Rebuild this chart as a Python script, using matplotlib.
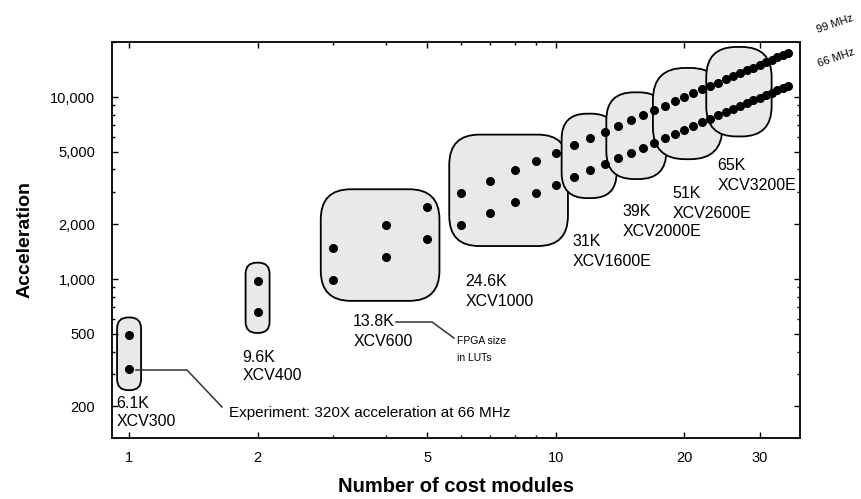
import matplotlib
matplotlib.use("Agg")
import matplotlib.pyplot as plt
from matplotlib.patches import FancyBboxPatch
from matplotlib.lines import Line2D
from matplotlib.transforms import IdentityTransform
from matplotlib.ticker import FixedLocator, NullFormatter, FixedFormatter

plt.rcParams["font.family"] = ["Liberation Sans", "DejaVu Sans"]

# data
modules = list(range(1, 36))
accel_99mhz = [490, 980, 1480, 1980, 2480, 2960, 3450, 3950, 4450, 4950,
               5450, 5950, 6450, 6950, 7450, 7950, 8450, 8950, 9500, 10000,
               10500, 11000, 11500, 12000, 12500, 13000, 13500, 14000, 14500, 15000,
               15500, 16000, 16500, 17000, 17500]
accel_66mhz = [320, 660, 990, 1320, 1650, 1980, 2310, 2640, 2970, 3300,
               3630, 3960, 4290, 4620, 4950, 5280, 5610, 5940, 6270, 6600,
               6930, 7260, 7590, 7920, 8250, 8580, 8910, 9240, 9570, 9900,
               10230, 10560, 10890, 11220, 11550]

# FPGA groups: first / last module count that fits in each device
group_first = [1, 2, 3, 6, 11, 14, 18, 24]
group_last = [1, 2, 5, 10, 13, 17, 23, 30]
group_luts = ["6.1K", "9.6K", "13.8K", "24.6K", "31K", "39K", "51K", "65K"]
group_parts = ["XCV300", "XCV400", "XCV600", "XCV1000",
               "XCV1600E", "XCV2000E", "XCV2600E", "XCV3200E"]

x_ticks = [1, 2, 5, 10, 20, 30]
x_minor = [3, 4, 6, 7, 8, 9]
y_ticks = [200, 500, 1000, 2000, 5000, 10000]
y_tick_labels = ["200", "500", "1,000", "2,000", "5,000", "10,000"]

W, H = 861, 499


def px(x, y):
    # pixel position (from top-left) -> figure fraction
    return x / W, 1 - y / H


def main():
    fig = plt.figure(figsize=(W / 100, H / 100), dpi=100)
    ax = fig.add_axes([112 / W, 1 - 438 / H, 688 / W, 396 / H])
    ax.set_xscale("log")
    ax.set_yscale("log")
    ax.set_xlim(0.912, 37.3)
    ax.set_ylim(134, 20050)

    ax.xaxis.set_major_locator(FixedLocator(x_ticks))
    ax.xaxis.set_major_formatter(FixedFormatter([str(t) for t in x_ticks]))
    ax.xaxis.set_minor_locator(FixedLocator(x_minor))
    ax.xaxis.set_minor_formatter(NullFormatter())
    ax.yaxis.set_major_locator(FixedLocator(y_ticks))
    ax.yaxis.set_major_formatter(FixedFormatter(y_tick_labels))
    ax.tick_params(which="both", direction="in", top=True, right=True,
                   labelsize=10.5, width=1)
    ax.tick_params(which="major", length=4)
    ax.tick_params(which="minor", length=2.5)
    ax.tick_params(axis="x", pad=9)
    ax.tick_params(axis="y", pad=12)
    for s in ax.spines.values():
        s.set_linewidth(1.3)

    ax.set_xlabel("Number of cost modules", fontsize=14.5, fontweight="bold", labelpad=9)
    ax.set_ylabel("Acceleration", fontsize=14, fontweight="bold", labelpad=12)

    # rounded outlines around each FPGA group (drawn in pixels)
    for first, last in zip(group_first, group_last):
        i0, i1 = modules.index(first), modules.index(last)
        ys = accel_99mhz[i0:i1 + 1] + accel_66mhz[i0:i1 + 1]
        x0, y0 = ax.transData.transform((first, min(ys)))
        x1, y1 = ax.transData.transform((last, max(ys)))
        x0, x1 = x0 - 12, x1 + 12
        y0, y1 = y0 - 21, y1 + 18
        w, h = x1 - x0, y1 - y0
        r = 0.27 * min(w, h) if w / h > 0.9 else 0.46 * min(w, h)
        box = FancyBboxPatch((x0, y0), w, h,
                             boxstyle=f"round,pad=0,rounding_size={r}",
                             transform=IdentityTransform(), facecolor="#e9e9e9",
                             edgecolor="black", linewidth=1.3, clip_on=False, zorder=1)
        ax.add_patch(box)

    ax.plot(modules, accel_99mhz, "o", color="black", ms=5.5, zorder=3)
    ax.plot(modules, accel_66mhz, "o", color="black", ms=5.5, zorder=3)

    # group labels (pixel positions of each line)
    label_pos = [(116, 403), (242, 357), (353, 322), (465, 282),
                 (572, 242), (622, 212), (672, 194), (717, 166)]
    for (lx, ly), luts, part in zip(label_pos, group_luts, group_parts):
        fig.text(*px(lx, ly), luts, fontsize=11.5, ha="left", va="center")
        fig.text(*px(lx + 1, ly + 19), part, fontsize=11.5, ha="left", va="center")

    fig.text(*px(457, 341), "FPGA size", fontsize=7.5, ha="left", va="center")
    fig.text(*px(457, 358), "in LUTs", fontsize=7.5, ha="left", va="center")
    fig.text(*px(229, 413), "Experiment: 320X acceleration at 66 MHz",
             fontsize=11, ha="left", va="center")

    leaders = [[(396, 322), (432, 322), (454, 338)],
               [(136, 370), (187, 370), (222, 407)]]
    for pts in leaders:
        xs = [px(x, y)[0] for x, y in pts]
        ys = [px(x, y)[1] for x, y in pts]
        fig.add_artist(Line2D(xs, ys, color="#333333", lw=1.1, transform=fig.transFigure))

    fig.text(*px(835, 24), "99 MHz", fontsize=8, rotation=19, ha="center", va="center")
    fig.text(*px(836, 58), "66 MHz", fontsize=8, rotation=19, ha="center", va="center")

    fig.savefig("out.png", dpi=100)
    plt.close(fig)


if __name__ == "__main__":
    main()
